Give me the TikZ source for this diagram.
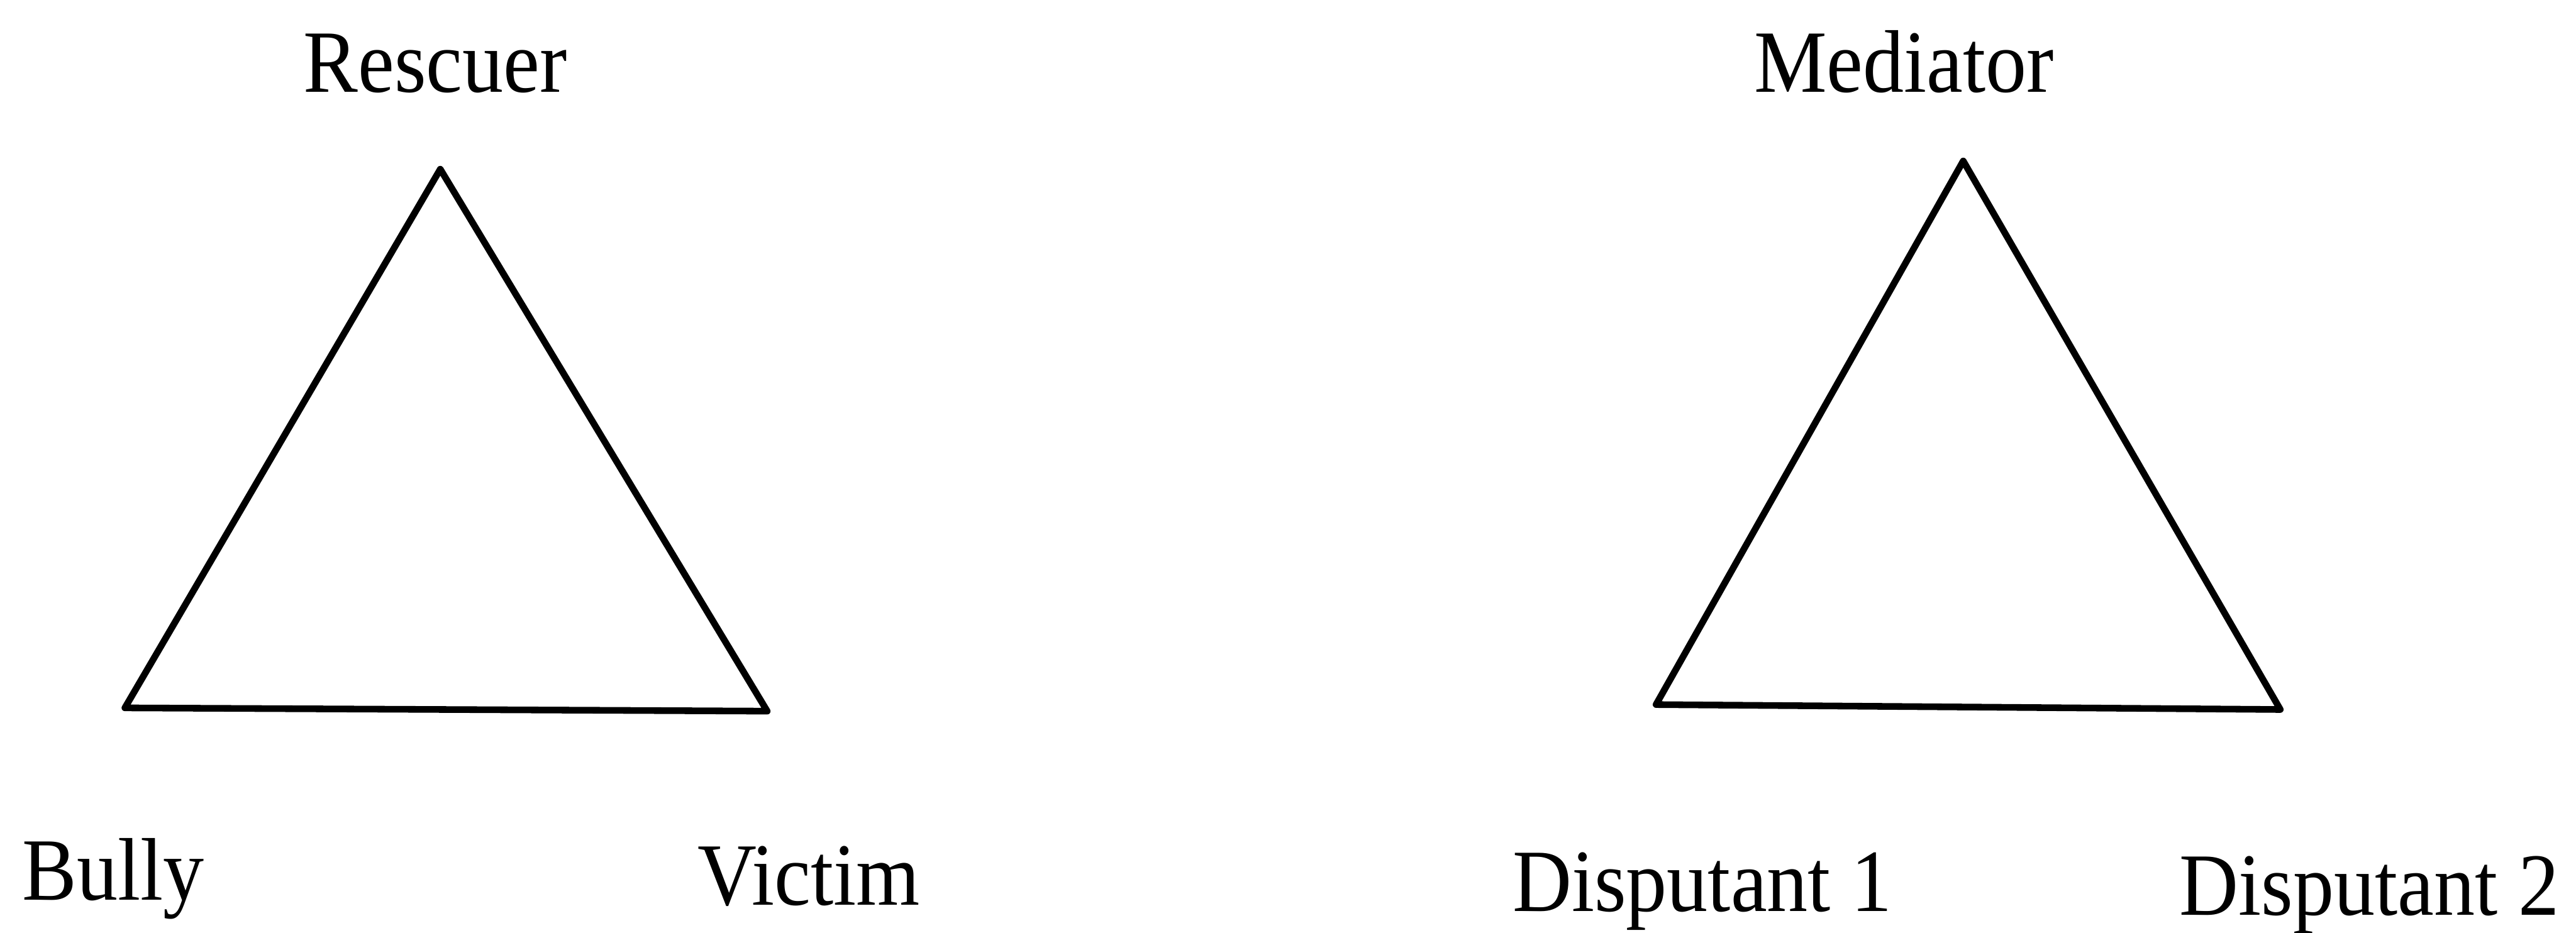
\documentclass[tikz,border=0pt]{standalone}
\usepackage{fontspec}
\setmainfont[FakeStretch=0.92]{Liberation Serif}
\usepackage{tikz}
\usetikzlibrary{positioning}

\tikzset{
    role/.style={anchor=base west, inner sep=0pt, font=\fontsize{15.4}{18}\selectfont},
    tri/.style={line width=1.15pt, line join=round},
}

\begin{document}
\begin{tikzpicture}
    \useasboundingbox (0,0) rectangle (15.68,-5.68);
    % left triangle
    \coordinate (rtop) at (2.68,-1.03);
    \coordinate (bleft) at (0.76,-4.31);
    \coordinate (vright) at (4.67,-4.33);
    \draw[tri] (rtop) -- (vright) -- (bleft) -- cycle;
    \node[role, anchor=base] (rescuer) at (2.65,-0.56) {Rescuer};
    \node[role] (bully) at (0.13,-5.48) {Bully};
    \node[role] (victim) at (4.24,-5.51) {Victim};
    % right triangle
    \coordinate (mtop) at (11.95,-0.98);
    \coordinate (dleft) at (10.08,-4.29);
    \coordinate (dright) at (13.88,-4.32);
    \draw[tri] (mtop) -- (dright) -- (dleft) -- cycle;
    \node[role, anchor=base] (mediator) at (11.59,-0.56) {Mediator};
    \node[role] (disp1) at (9.20,-5.55) {Disputant 1};
    \node[role] (disp2) at (13.26,-5.57) {Disputant 2};
\end{tikzpicture}
\end{document}
